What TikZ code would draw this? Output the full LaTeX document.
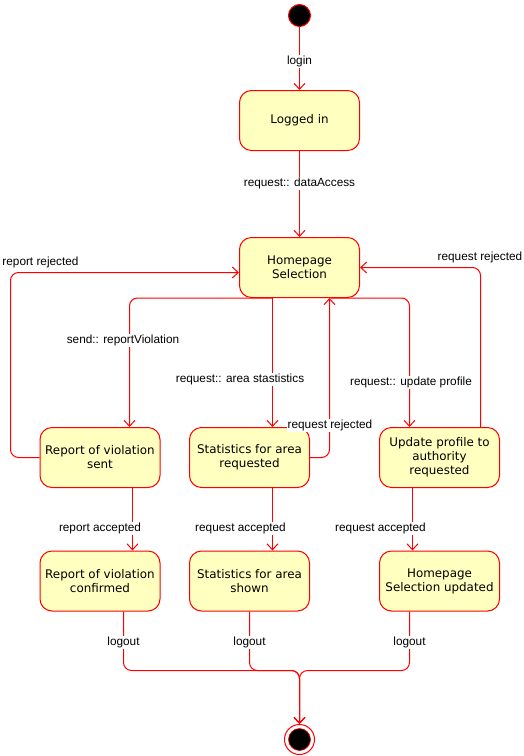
\documentclass[tikz,border=0pt]{standalone}
\usepackage{fontspec}
\setmainfont{Liberation Sans}
\newfontfamily\statefont{DejaVu Sans}
\usepackage{tikz}
\usetikzlibrary{arrows.meta}
\definecolor{umlred}{HTML}{FF0000}
\definecolor{umlfill}{HTML}{FFFFC0}

\begin{document}
\begin{tikzpicture}[x=1pt, y=-1pt,
        state/.style={draw=umlred, fill=umlfill, line width=1pt, rounded corners=12pt, minimum width=120pt, minimum height=60pt, inner sep=0pt, align=center, font=\statefont\fontsize{11.9}{14}\selectfont},
        trans/.style={color=umlred, line width=1pt, rounded corners=8pt, -{Straight Barb[length=6pt,width=11pt]}},
        lbl/.style={fill=white, inner sep=1pt, font=\fontsize{11.8}{14}\selectfont}]
        \useasboundingbox (0,0) rectangle (523,756);
        \begin{scope}[shift={(0.5,0.5)}]
        \node [circle, fill=black, draw=umlred, line width=1pt, minimum size=22pt, inner sep=0pt] (start) at (299,15) {};
        \node [state] (logged) at (299,120) {Logged in};
        \node [state] (home) at (299,267) {Homepage\\Selection};
        \node [state] (rsent) at (99.5,457) {Report of violation\\sent};
        \node [state] (sreq) at (249,457) {Statistics for area\\requested};
        \node [state] (ureq) at (439,457) {Update profile to\\authority\\requested};
        \node [state] (rconf) at (99.5,580.5) {Report of violation\\confirmed};
        \node [state] (sshow) at (249,580.5) {Statistics for area\\shown};
        \node [state] (uupd) at (439,580.5) {Homepage\\Selection updated};
        \node [circle, draw=umlred, line width=1pt, minimum size=30pt, inner sep=0pt] (final) at (299,739) {};
        \node [circle, fill=black, draw=umlred, line width=0.6pt, minimum size=22pt, inner sep=0pt] at (final) {};
        \coordinate (merge) at (299,670);
        \draw [trans] (start) -- (logged);
        \draw [trans] (logged) -- (home);
        \draw [trans] (272,0 |- home.south) -| (129,0 |- rsent.north);
        \draw [trans] (272,0 |- home.south) -- (272,0 |- sreq.north);
        \draw [trans] (330,0 |- home.south) -| (409,0 |- ureq.north);
        \draw [trans] (sreq.east) -| (329,0 |- home.south);
        \draw [trans] (rsent.west) -| (10,272) -- (home.west |- 0,272);
        \draw [trans] (480,0 |- ureq.north) |- (home.east);
        \draw [trans] (132,0 |- rsent.south) -- (132,0 |- rconf.north);
        \draw [trans] (272,0 |- sreq.south) -- (272,0 |- sshow.north);
        \draw [trans] (412,0 |- ureq.south) -- (412,0 |- uupd.north);
        \draw [trans] (123,0 |- rconf.south) |- (merge) -- (final);
        \draw [trans] (249,0 |- sshow.south) |- (merge) -- (final);
        \draw [trans] (409,0 |- uupd.south) |- (merge) -- (final);
        \node [lbl] (llogin) at (299,61) {login};
        \node [lbl] (laccess) at (299,183) {request:: dataAccess};
        \node [lbl] (lrrej) at (40,262) {report rejected};
        \node [lbl] (lurej) at (479.5,257) {request rejected};
        \node [lbl] (lsend) at (122.5,340) {send:: reportViolation};
        \node [lbl] (larea) at (239.5,379) {request:: area stastistics};
        \node [lbl] (lupd) at (410.5,382) {request:: update profile};
        \node [lbl] (lsrej) at (329.5,425) {request rejected};
        \node [lbl] (lracc) at (99.5,528) {report accepted};
        \node [lbl] (lsacc) at (240,528) {request accepted};
        \node [lbl] (luacc) at (380,528) {request accepted};
        \node [lbl] (lout1) at (123,642) {logout};
        \node [lbl] (lout2) at (249,642) {logout};
        \node [lbl] (lout3) at (409,642) {logout};
        \end{scope}
    \end{tikzpicture}
\end{document}
